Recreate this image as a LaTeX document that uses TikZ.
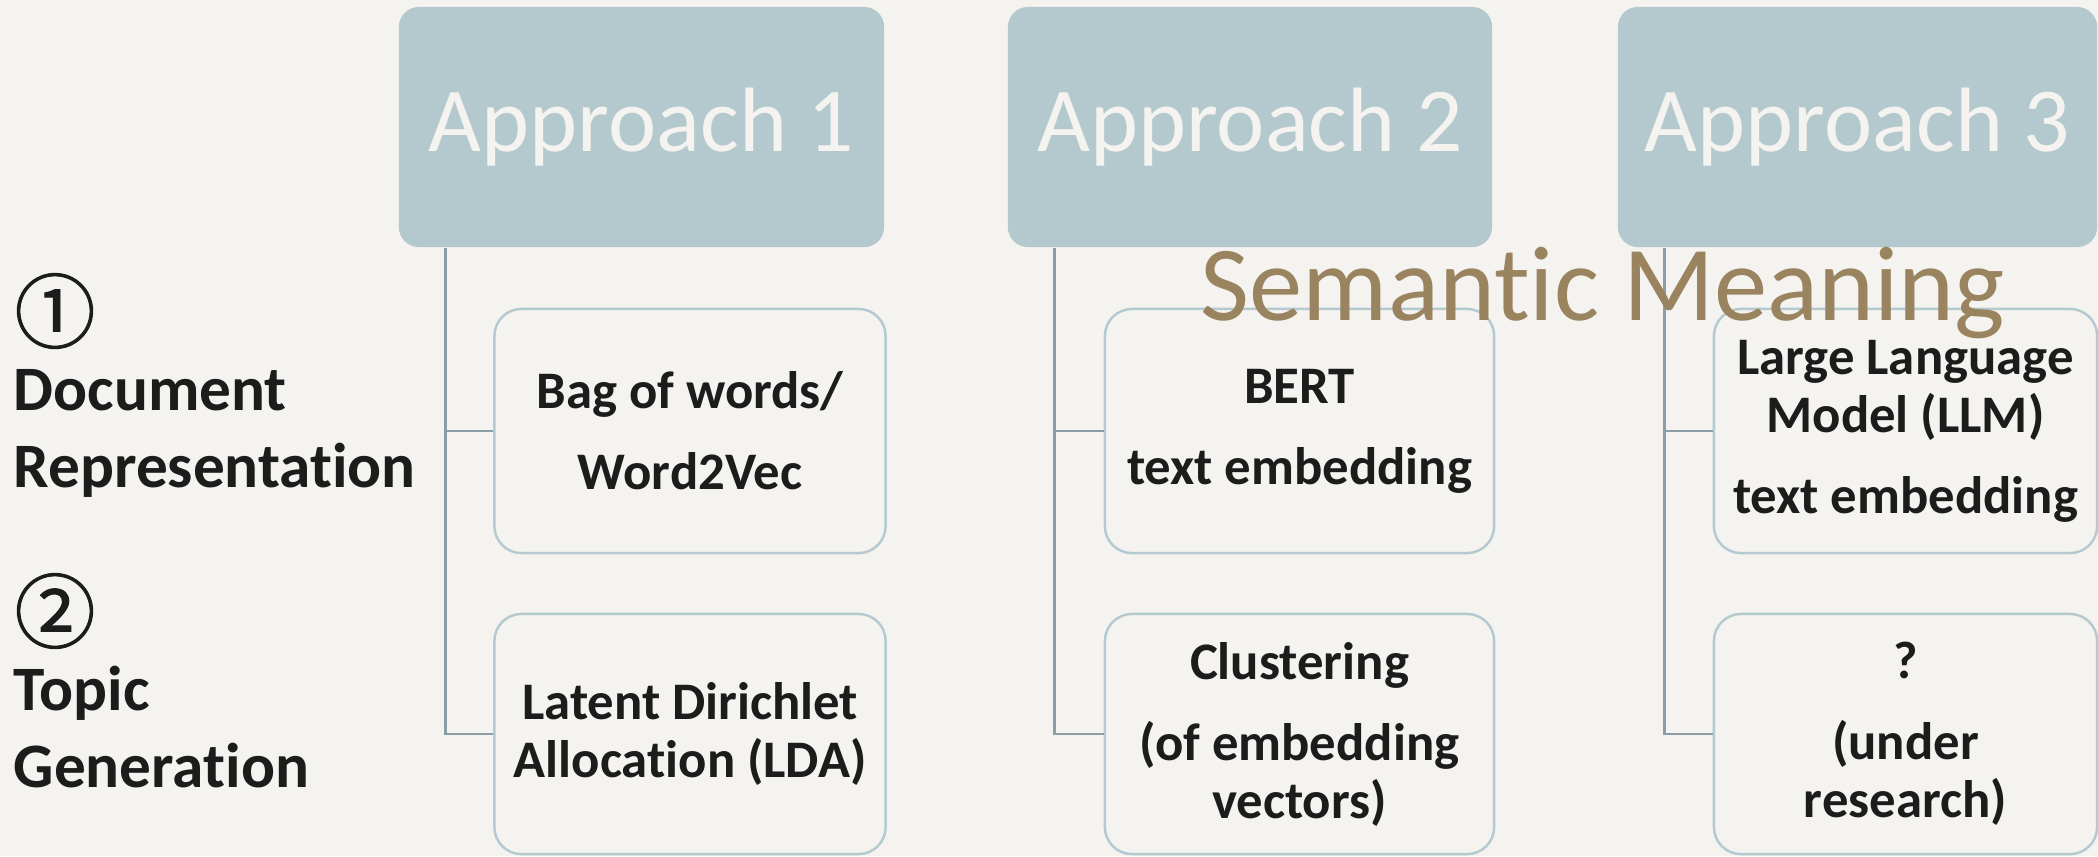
\documentclass[tikz,border=0pt]{standalone}
\usepackage{fontspec}
\setmainfont{Carlito}[Ligatures=NoCommon]
\newfontfamily\circfont{Noto Sans CJK JP}[FakeBold=1.2]
\usetikzlibrary{calc}
\definecolor{bg}{HTML}{F4F3EF}
\definecolor{headfill}{HTML}{B4C9CD}
\definecolor{boxline}{HTML}{B4CAD0}
\definecolor{trunk}{HTML}{8C9EA5}
\definecolor{accent}{HTML}{9A8460}
\definecolor{ink}{HTML}{1C1C1C}
\begin{document}
\begin{tikzpicture}[x=0.01cm,y=-0.01cm,
  header/.style={rectangle, rounded corners=0.2cm, fill=headfill, text=bg,
    font=\fontsize{26}{30}\selectfont, minimum height=2.4cm, inner sep=0pt},
  leaf/.style={rectangle, rounded corners=0.27cm, draw=boxline, line width=0.7pt,
    fill=bg, text=ink, font=\bfseries\fontsize{15}{16.5}\selectfont, align=center,
    inner sep=0pt},
  conn/.style={draw=trunk, line width=0.8pt},
  rowlabel/.style={font=\bfseries\fontsize{18}{21.9}\selectfont, text=ink,
    align=left, inner sep=0pt, anchor=base west},
  circled/.style={font=\circfont\fontsize{23}{23}\selectfont, text=ink, inner sep=0pt},
]
\fill[bg] (0,0) rectangle (2098,856);
\useasboundingbox (0,0) rectangle (2098,856);

% column headers
\node[header, minimum width=4.85cm] (h1) at (641.5,127) {Approach 1};
\node[header, minimum width=4.84cm] (h2) at (1250,127) {Approach 2};
\node[header, minimum width=4.79cm] (h3) at (1857.5,127) {Approach 3};

% leaf boxes
\node[leaf, minimum width=3.91cm, minimum height=2.44cm] (a1top) at (690,431)
  {Bag of words/\\[0.23cm]Word2Vec};
\node[leaf, minimum width=3.91cm, minimum height=2.40cm] (a1bot) at (690,734)
  {Latent Dirichlet\\Allocation (LDA)};
\node[leaf, minimum width=3.89cm, minimum height=2.44cm] (a2top) at (1299.5,431)
  {BERT\\[0.23cm]text embedding};
\node[leaf, minimum width=3.89cm, minimum height=2.40cm] (a2bot) at (1299.5,734)
  {Clustering\\[0.23cm](of embedding\\vectors)};
\node[leaf, minimum width=3.83cm, minimum height=2.44cm] (a3top) at (1905.5,431)
  {Large Language\\Model (LLM)\\[0.23cm]text embedding};
\node[leaf, minimum width=3.83cm, minimum height=2.40cm] (a3bot) at (1905.5,734)
  {?\\[0.23cm](under\\research)};

% tree connectors
\foreach \h/\t/\b in {h1/a1top/a1bot, h2/a2top/a2bot, h3/a3top/a3bot}{
  \draw[conn] ($(\h.south west)+(47.5,0)$) |- (\t.west);
  \draw[conn] ($(\h.south west)+(47.5,0)$) |- (\b.west);
}

% row labels (base anchor sits on the last line)
\node[circled] (n1) at (55,311) {①};
\node[rowlabel] (l1) at (13,487) {Document\\Representation};
\node[circled] (n2) at (55,611) {②};
\node[rowlabel] (l2) at (13,787) {Topic\\Generation};

% overlay title
\node[font=\fontsize{30.3}{32}\selectfont, text=accent, anchor=base, inner sep=0pt]
  (sem) at (1603,320) {Semantic Meaning};
\end{tikzpicture}
\end{document}
